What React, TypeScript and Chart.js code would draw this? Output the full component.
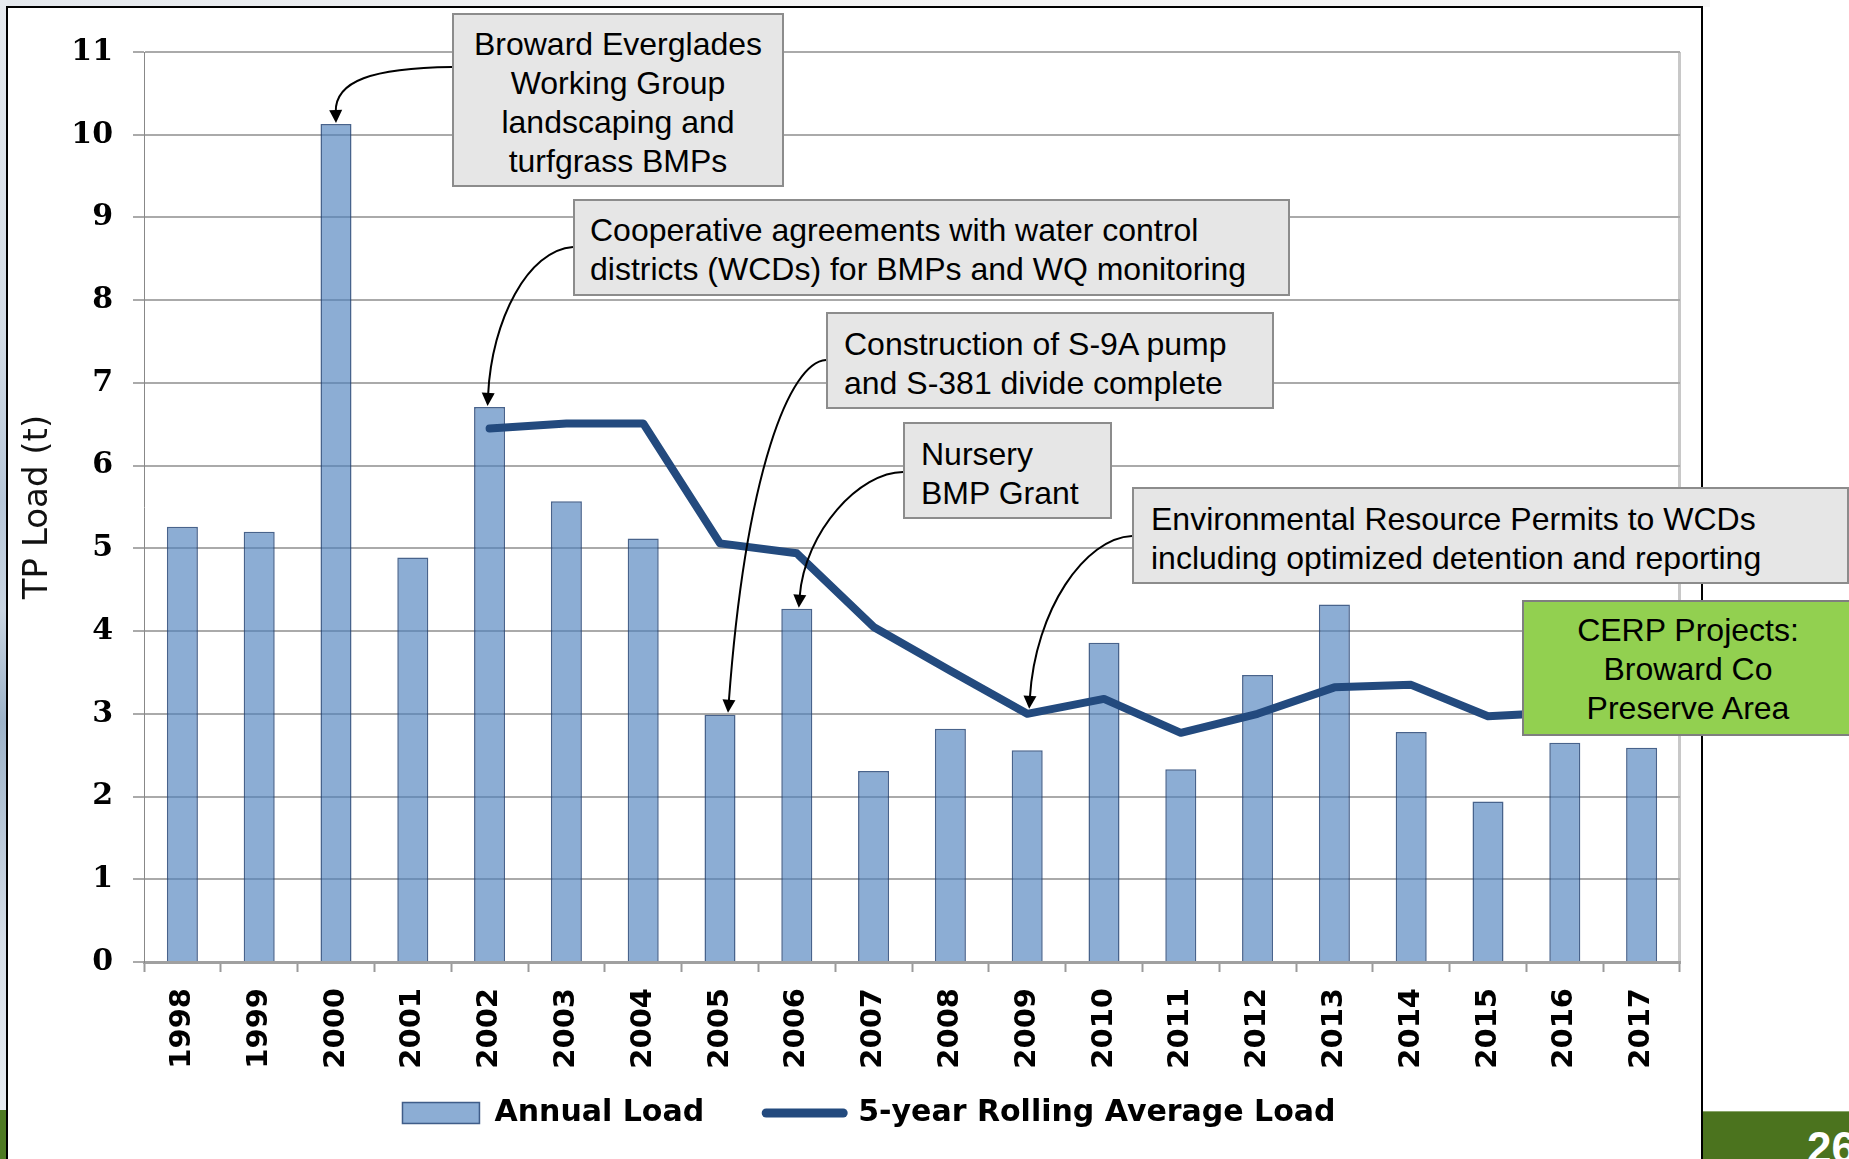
import React, { useEffect, useRef } from 'react';
import { Chart, registerables } from 'chart.js';

Chart.register(...registerables);

// ---------------- data ----------------
const years = ['1998', '1999', '2000', '2001', '2002', '2003', '2004', '2005', '2006', '2007',
  '2008', '2009', '2010', '2011', '2012', '2013', '2014', '2015', '2016', '2017'];

const annualLoad = [5.26, 5.20, 10.13, 4.89, 6.71, 5.57, 5.12, 2.99, 4.27, 2.31,
  2.82, 2.56, 3.86, 2.33, 3.47, 4.32, 2.78, 1.94, 2.65, 2.59];

const rollingAvg: (number | null)[] = [null, null, null, null, 6.45, 6.51, 6.51, 5.06, 4.94, 4.05,
  3.52, 3.00, 3.18, 2.77, 3.00, 3.32, 3.35, 2.97, 3.02, 2.86];

const seriesLabels = ['Annual Load', '5-year Rolling Average Load'];
const yAxisTitle = 'TP Load (t)';
const yMin = 0;
const yMax = 11;
const yStep = 1;

// ---------------- annotations (layout) ----------------
type Arrow = { year: string; target: 'bar' | 'line'; dx: number; dy: number; sx: number; sy: number; c1x: number; c1y: number; c2dx: number; c2dy: number };
const arrows: Arrow[] = [
  { year: '2000', target: 'bar', dx: 0, dy: -1, sx: 452, sy: 67, c1x: 372, c1y: 68, c2dx: -1, c2dy: -42 },
  { year: '2002', target: 'bar', dx: -2, dy: -1, sx: 573, sy: 247, c1x: 528, c1y: 250, c2dx: 4, c2dy: -86 },
  { year: '2005', target: 'bar', dx: 8, dy: -2, sx: 826, sy: 360, c1x: 790, c1y: 362, c2dx: 18, c2dy: -242 },
  { year: '2006', target: 'bar', dx: 2, dy: -1, sx: 903, sy: 472, c1x: 860, c1y: 472, c2dx: 6, c2dy: -77 },
  { year: '2009', target: 'line', dx: 2, dy: -5, sx: 1132, sy: 536, c1x: 1085, c1y: 538, c2dx: 6, c2dy: -99 },
];

type Box = { lines: string[]; left: number; top: number; width: number; height: number; align: 'left' | 'center'; padLeft: number; padTop: number; bg: string; border: string };
const boxes: Box[] = [
  { lines: ['Broward Everglades', 'Working Group', 'landscaping and', 'turfgrass BMPs'], left: 452, top: 13, width: 332, height: 174, align: 'center', padLeft: 0, padTop: 9.8, bg: '#e6e6e6', border: '#8c8c8c' },
  { lines: ['Cooperative agreements with water control', 'districts (WCDs) for BMPs and WQ monitoring'], left: 573, top: 199, width: 717, height: 97, align: 'left', padLeft: 15, padTop: 9.8, bg: '#e6e6e6', border: '#8c8c8c' },
  { lines: ['Construction of S-9A pump', 'and S-381 divide complete'], left: 826, top: 312, width: 448, height: 97, align: 'left', padLeft: 16, padTop: 10.8, bg: '#e6e6e6', border: '#8c8c8c' },
  { lines: ['Nursery', 'BMP Grant'], left: 903, top: 422, width: 209, height: 97, align: 'left', padLeft: 16, padTop: 10.8, bg: '#e6e6e6', border: '#8c8c8c' },
  { lines: ['Environmental Resource Permits to WCDs', 'including optimized detention and reporting'], left: 1132, top: 487, width: 717, height: 97, align: 'left', padLeft: 17, padTop: 10.8, bg: '#e6e6e6', border: '#8c8c8c' },
  { lines: ['CERP Projects:', 'Broward Co', 'Preserve Area'], left: 1522, top: 600, width: 332, height: 136, align: 'center', padLeft: 0, padTop: 8.8, bg: '#92d050', border: '#7f7f7f' },
];

const BAR_FILL = 'rgba(79,129,189,0.65)';
const BAR_BORDER = 'rgba(40,72,120,0.85)';
const LINE_COLOR = '#234a7e';

const arrowPlugin = {
  id: 'annotationArrows',
  afterDatasetsDraw(chart: any) {
    const { ctx } = chart;
    const xs = chart.scales.x;
    const ys = chart.scales.y;
    ctx.save();
    ctx.strokeStyle = '#000';
    ctx.fillStyle = '#000';
    ctx.lineWidth = 2;
    for (const a of arrows) {
      const idx = years.indexOf(a.year);
      const v = a.target === 'bar' ? annualLoad[idx] : (rollingAvg[idx] as number);
      const tx = xs.getPixelForValue(idx) + a.dx;
      const ty = ys.getPixelForValue(v) + a.dy;
      const c2x = tx + a.c2dx;
      const c2y = ty + a.c2dy;
      const ang = Math.atan2(ty - c2y, tx - c2x);
      const hl = 13;
      const hw = 6.5;
      const bx = tx - Math.cos(ang) * hl;
      const by = ty - Math.sin(ang) * hl;
      ctx.beginPath();
      ctx.moveTo(a.sx, a.sy);
      ctx.bezierCurveTo(a.c1x, a.c1y, c2x, c2y, bx + Math.cos(ang) * 2, by + Math.sin(ang) * 2);
      ctx.stroke();
      ctx.beginPath();
      ctx.moveTo(tx, ty);
      ctx.lineTo(bx + Math.sin(ang) * hw, by - Math.cos(ang) * hw);
      ctx.lineTo(bx - Math.sin(ang) * hw, by + Math.cos(ang) * hw);
      ctx.closePath();
      ctx.fill();
    }
    ctx.restore();
  },
};

// shifts the legend horizontally and lets the rotated x labels use the space below the axis
const layoutTweakPlugin = {
  id: 'layoutTweak',
  afterLayout(chart: any) {
    const lg = chart.legend;
    if (lg) {
      lg.left += 29;
      lg.right += 29;
    }
    const xs = chart.scales.x;
    if (xs) {
      xs.bottom = chart.height;
    }
  },
};

export default function App() {
  const canvasRef = useRef<HTMLCanvasElement>(null);

  useEffect(() => {
    const canvas = canvasRef.current;
    if (!canvas) return;
    const chart = new Chart(canvas, {
      type: 'bar',
      data: {
        labels: years,
        datasets: [
          {
            type: 'bar',
            label: seriesLabels[0],
            data: annualLoad,
            backgroundColor: BAR_FILL,
            borderColor: BAR_BORDER,
            borderWidth: 1.5,
            barPercentage: 0.404,
            categoryPercentage: 1,
            order: 1,
          } as any,
          {
            type: 'line',
            label: seriesLabels[1],
            data: rollingAvg,
            borderColor: LINE_COLOR,
            backgroundColor: LINE_COLOR,
            borderWidth: 8,
            pointRadius: 0,
            pointHoverRadius: 0,
            fill: false,
            tension: 0,
            borderCapStyle: 'round',
            borderJoinStyle: 'round',
            order: 0,
          } as any,
        ],
      },
      options: {
        responsive: false,
        animation: false,
        events: [],
        layout: { padding: { left: 0, top: 52, right: 169, bottom: 21 } },
        plugins: {
          tooltip: { enabled: false },
          legend: {
            position: 'bottom',
            align: 'center',
            labels: {
              usePointStyle: true,
              pointStyleWidth: 77,
              boxHeight: 21,
              padding: 62,
              color: '#000',
              font: { family: 'DejaVu Sans', size: 30, weight: 'bold' },
              generateLabels(ch: any) {
                const items = (Chart.defaults.plugins.legend.labels as any).generateLabels(ch);
                items.sort((p: any, q: any) => p.datasetIndex - q.datasetIndex);
                return items.map((it: any) =>
                  it.datasetIndex === 0
                    ? { ...it, pointStyle: 'rect', fillStyle: BAR_FILL, strokeStyle: BAR_BORDER, lineWidth: 1.5 }
                    : { ...it, pointStyle: 'line', fillStyle: LINE_COLOR, strokeStyle: LINE_COLOR, lineWidth: 9, lineCap: 'round' }
                );
              },
            },
          } as any,
        },
        scales: {
          x: {
            offset: true,
            ticks: {
              autoSkip: false,
              minRotation: 90,
              maxRotation: 90,
              padding: 16,
              color: '#000',
              font: { family: 'DejaVu Sans', size: 29, weight: 'bold' },
            },
            grid: {
              offset: true,
              drawOnChartArea: true,
              drawTicks: true,
              tickLength: 10,
              color: (c: any) => (c.type === 'tick' ? 'rgba(0,0,0,0)' : '#c8c8c8'),
              lineWidth: (c: any) => (c.type === 'tick' ? 1 : 3),
              tickColor: '#9a9a9a',
              tickWidth: 2,
            },
            border: { display: true, color: '#a0a0a0', width: 3 },
            afterFit(s: any) {
              s.height = 74;
            },
          } as any,
          y: {
            min: yMin,
            max: yMax,
            ticks: {
              stepSize: yStep,
              padding: 20,
              color: '#000',
              font: { family: 'DejaVu Serif', size: 30, weight: 'bold' },
            },
            grid: { color: '#aaaaaa', lineWidth: 2, tickLength: 11, drawTicks: true },
            border: { display: true, color: '#888888', width: 1 },
            title: {
              display: true,
              text: yAxisTitle,
              color: '#111',
              font: { family: 'DejaVu Sans', size: 34 },
              padding: { top: 18, bottom: 0 },
            },
            afterFit(s: any) {
              s.width = 144;
            },
          } as any,
        },
      },
      plugins: [arrowPlugin, layoutTweakPlugin],
    });
    return () => chart.destroy();
  }, []);

  return (
    <div style={{ position: 'absolute', left: 0, top: 0, width: 1849, height: 1159, overflow: 'hidden', background: '#ffffff' }}>
      {/* slide background fragments */}
      <div style={{ position: 'absolute', left: 0, top: 0, width: 1710, height: 7, background: 'linear-gradient(to right, #e4e8ed, #f3f3f3 40%, #f6f6f6)' }} />
      <div style={{ position: 'absolute', left: 0, top: 0, width: 7, height: 1110, background: 'linear-gradient(to bottom, #e6eaef 0%, #d3dce6 30%, #b8c8da 45%, #c9d5e2 55%, #9db3c9 65%, #d6dee8 85%, #e7ecf1 100%)' }} />
      <div style={{ position: 'absolute', left: 0, top: 1110, width: 7, height: 49, background: '#4e7a22' }} />
      <div style={{ position: 'absolute', left: 1702, top: 1111, width: 147, height: 48, background: '#4b731e', borderTop: '1px solid #8aa56a', boxSizing: 'border-box' }}>
        <div style={{ position: 'absolute', left: 105, top: 14, fontFamily: 'Liberation Sans', fontWeight: 'bold', fontSize: 44, lineHeight: '44px', color: '#ffffff', whiteSpace: 'nowrap' }}>26</div>
      </div>
      {/* chart frame */}
      <div style={{ position: 'absolute', left: 6, top: 6, width: 1697, height: 1200, border: '2px solid #000', boxSizing: 'border-box', background: '#ffffff' }} />
      <canvas ref={canvasRef} width={1849} height={1159} style={{ position: 'absolute', left: 0, top: 0 }} />
      {boxes.map((b, i) => (
        <div
          key={i}
          style={{
            position: 'absolute',
            left: b.left,
            top: b.top,
            width: b.width,
            height: b.height,
            boxSizing: 'border-box',
            background: b.bg,
            border: `2px solid ${b.border}`,
            paddingTop: b.padTop,
            paddingLeft: b.padLeft,
            textAlign: b.align,
            fontFamily: 'Liberation Sans, Arial, sans-serif',
            fontSize: 32,
            lineHeight: '39px',
            color: '#000',
            whiteSpace: 'nowrap',
          }}
        >
          {b.lines.map((l, j) => (
            <div key={j}>{l}</div>
          ))}
        </div>
      ))}
    </div>
  );
}
